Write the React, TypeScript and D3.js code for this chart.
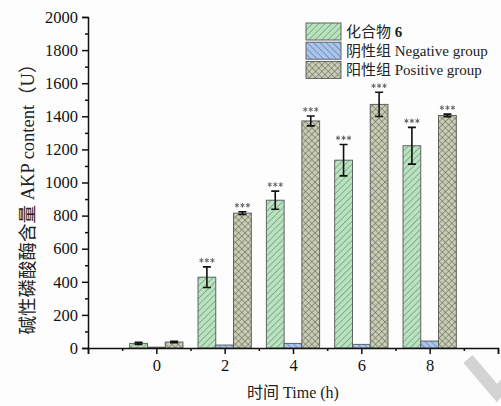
import * as d3 from "d3";
import { useEffect, useRef } from "react";

const times = [0, 2, 4, 6, 8];
const compound6 = [28, 428, 893, 1135, 1222];
const compound6Err = [6, 62, 55, 95, 111];
const negative = [5, 18, 28, 22, 42];
const negativeErr = [0, 0, 0, 0, 0];
const positive = [36, 815, 1372, 1472, 1405];
const positiveErr = [4, 8, 30, 73, 8];
const starred = [false, true, true, true, true];

const yTicks = [0, 200, 400, 600, 800, 1000, 1200, 1400, 1600, 1800, 2000];
const xTickLabels = [0, 2, 4, 6, 8];

const seriesNames = ["化合物 ", "阴性组 Negative group", "阳性组 Positive group"];

const FONT = "'Liberation Serif', 'Times New Roman', 'Noto Sans CJK SC', serif";

// small asterisk made of three strokes
const asterisk = (cx, cy, r) => {
    const a = r * Math.cos(Math.PI / 6);
    const b = r * Math.sin(Math.PI / 6);
    return `M${cx},${cy - r}V${cy + r}M${cx - a},${cy - b}L${cx + a},${cy + b}M${cx - a},${cy + b}L${cx + a},${cy - b}`;
};

export default function App() {
    const svgRef = useRef<SVGSVGElement>(null);
    const width = 501;
    const height = 406;

    useEffect(() => {
        const svg = d3.select(svgRef.current);
        svg.selectAll("*").remove();

        const x = d3.scaleLinear([-2, 10], [88, 498]);
        const y = d3.scaleLinear([0, 2000], [348, 17]);
        const barW = 0.52;

        // hatch patterns
        const defs = svg.append("defs");
        const hatch = (id, fill, line, angle, cross) => {
            const p = defs.append("pattern")
                .attr("id", id)
                .attr("patternUnits", "userSpaceOnUse")
                .attr("width", 4.5)
                .attr("height", 4.5)
                .attr("patternTransform", `rotate(${angle})`);
            p.append("rect").attr("width", 4.5).attr("height", 4.5).attr("fill", fill);
            p.append("line").attr("x1", 0).attr("y1", 0).attr("x2", 0).attr("y2", 4.5)
                .attr("stroke", line).attr("stroke-width", 0.9);
            if (cross) {
                p.append("line").attr("x1", 0).attr("y1", 0).attr("x2", 4.5).attr("y2", 0)
                    .attr("stroke", line).attr("stroke-width", 0.9);
            }
        };
        hatch("pGreen", "#b9e2bf", "#4d6e52", 45, false);
        hatch("pBlue", "#a9c5ec", "#3b5a86", -45, false);
        hatch("pPos", "#c8cdb4", "#4f5548", 45, true);

        svg.append("rect").attr("width", width).attr("height", height).attr("fill", "#fdfdfd");

        // watermark
        svg.append("polyline")
            .attr("points", "468,359 497,393 512,376")
            .attr("fill", "none")
            .attr("stroke", "#d3d3d3")
            .attr("stroke-width", 12);

        const series = [
            { vals: compound6, errs: compound6Err, off: -barW, fill: "url(#pGreen)", stars: true },
            { vals: negative, errs: negativeErr, off: 0, fill: "url(#pBlue)", stars: false },
            { vals: positive, errs: positiveErr, off: barW, fill: "url(#pPos)", stars: true },
        ];

        series.forEach(s => {
            const g = svg.append("g");
            times.forEach((t, i) => {
                const x0 = x(t + s.off - barW / 2);
                const x1 = x(t + s.off + barW / 2);
                const cx = (x0 + x1) / 2;
                g.append("rect")
                    .attr("x", x0)
                    .attr("y", y(s.vals[i]))
                    .attr("width", x1 - x0)
                    .attr("height", y(0) - y(s.vals[i]))
                    .attr("fill", s.fill)
                    .attr("stroke", "#555")
                    .attr("stroke-width", 0.9);
                if (s.errs[i] > 0) {
                    const top = y(s.vals[i] + s.errs[i]);
                    const bot = y(s.vals[i] - s.errs[i]);
                    g.append("path")
                        .attr("d", `M${cx - 4},${top}H${cx + 4}M${cx},${top}V${bot}M${cx - 4},${bot}H${cx + 4}`)
                        .attr("stroke", "#111")
                        .attr("stroke-width", 1.6)
                        .attr("fill", "none");
                }
                if (s.stars && starred[i]) {
                    const sy = y(s.vals[i] + s.errs[i]) - 6.5;
                    g.append("path")
                        .attr("d", [-5.5, 0, 5.5].map(dx => asterisk(cx + dx, sy, 2.3)).join(""))
                        .attr("stroke", "#666")
                        .attr("stroke-width", 1)
                        .attr("fill", "none");
                }
            });
        });

        // y axis
        const yMinor = d3.axisLeft(y).tickValues(d3.range(100, 2000, 200)).tickSize(3).tickFormat(() => "");
        const yMajor = d3.axisLeft(y).tickValues(yTicks).tickSize(6).tickPadding(4).tickFormat(d3.format("d"));
        svg.append("g").attr("transform", "translate(88,0)").call(yMinor)
            .call(g => g.select(".domain").remove());
        const ya = svg.append("g").attr("transform", "translate(88,0)").call(yMajor);
        ya.selectAll("text").attr("font-family", FONT).attr("font-size", 16.5).attr("fill", "#111");

        // x axis
        const xMinor = d3.axisBottom(x).tickValues(d3.range(-1, 10, 2)).tickSize(3).tickFormat(() => "");
        const xMajor = d3.axisBottom(x).tickValues(d3.range(-2, 11, 2)).tickSize(6).tickPadding(5)
            .tickFormat(d => (xTickLabels.includes(d) ? String(d) : ""));
        svg.append("g").attr("transform", `translate(0,${y(0)})`).call(xMinor)
            .call(g => g.select(".domain").remove());
        const xa = svg.append("g").attr("transform", `translate(0,${y(0)})`).call(xMajor);
        xa.selectAll("text").attr("font-family", FONT).attr("font-size", 16.5).attr("fill", "#111");

        svg.selectAll(".domain, .tick line").attr("stroke", "#111").attr("stroke-width", 1.5);

        // axis titles
        svg.append("text")
            .attr("transform", `translate(34,${(y(0) + y(2000)) / 2 + 12}) rotate(-90)`)
            .attr("text-anchor", "middle")
            .attr("font-family", FONT)
            .attr("font-size", 18.5)
            .attr("fill", "#222")
            .text("碱性磷酸酶含量 AKP content（U）");

        svg.append("text")
            .attr("x", 293)
            .attr("y", 398)
            .attr("text-anchor", "middle")
            .attr("font-family", FONT)
            .attr("font-size", 16)
            .attr("fill", "#222")
            .text("时间 Time (h)");

        // legend
        const fills = ["url(#pGreen)", "url(#pBlue)", "url(#pPos)"];
        const lg = svg.append("g").attr("transform", "translate(306,23)");
        seriesNames.forEach((name, i) => {
            lg.append("rect")
                .attr("x", 0)
                .attr("y", i * 19.2)
                .attr("width", 35)
                .attr("height", 17)
                .attr("fill", fills[i])
                .attr("stroke", "#555")
                .attr("stroke-width", 0.9);
            const t = lg.append("text")
                .attr("x", 40)
                .attr("y", i * 19.2 + 14)
                .attr("font-family", FONT)
                .attr("font-size", 15)
                .attr("fill", "#222")
                .text(name);
            if (i === 0) t.append("tspan").attr("font-weight", "bold").text("6");
        });
    }, []);

    return (
        <svg
            ref={svgRef}
            width={width}
            height={height}
            viewBox={`0 0 ${width} ${height}`}
            style={{ position: "absolute", left: 0, top: 0, display: "block" }}
            xmlns="http://www.w3.org/2000/svg"
        />
    );
}
